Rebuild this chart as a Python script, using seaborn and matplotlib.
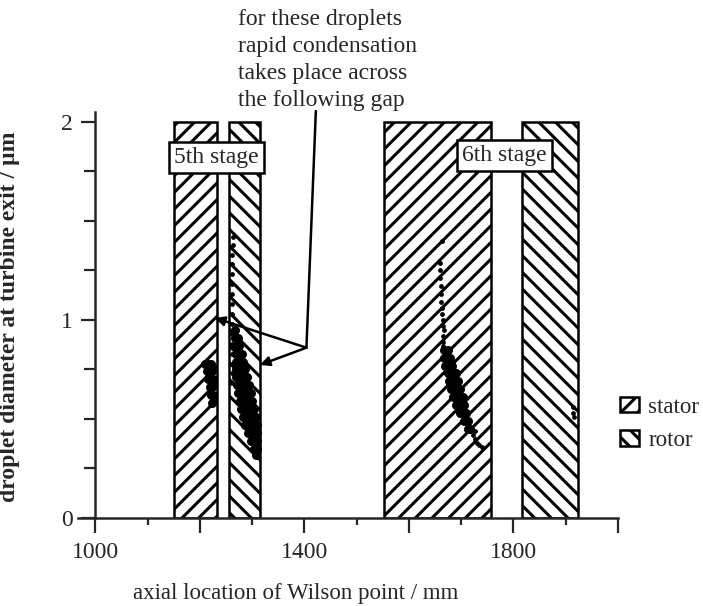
import matplotlib
matplotlib.use("Agg")
import matplotlib.pyplot as plt
from matplotlib.patches import Patch
from matplotlib.ticker import FixedLocator, MultipleLocator
import seaborn as sns
import pandas as pd

# ---------------- data ----------------
blade_kind = ["stator", "rotor", "stator", "rotor"]
blade_start = [1150, 1256, 1553, 1817]
blade_end = [1232, 1316, 1757, 1924]
blade_top = 2.0

stage_names = ["5th stage", "6th stage"]
stage_x = [1232, 1782]
stage_y = [1.82, 1.83]

x_major = [1000, 1200, 1400, 1600, 1800, 2000]
x_labels = ["1000", "", "1400", "", "1800", ""]
y_major = [0, 1, 2]
y_labels = ["0", "1", "2"]

note_text = ["for these droplets", "rapid condensation",
             "takes place across", "the following gap"]

# droplet clusters (dense parts)
a_x = [1210, 1216, 1222, 1213, 1219, 1224, 1216, 1221, 1225, 1219, 1224, 1221, 1225, 1224]
a_y = [0.78, 0.78, 0.78, 0.74, 0.74, 0.74, 0.70, 0.70, 0.70, 0.66, 0.66, 0.62, 0.62, 0.58]

b_x = [1268,
       1268, 1273,
       1269, 1275,
       1269, 1275, 1280,
       1270, 1276, 1283,
       1270, 1276, 1282, 1287,
       1270, 1276, 1282, 1287, 1291,
       1271, 1277, 1283, 1289, 1295,
       1273, 1279, 1285, 1291, 1297,
       1276, 1282, 1288, 1294, 1300,
       1279, 1285, 1291, 1297, 1303,
       1283, 1289, 1295, 1301, 1307,
       1287, 1293, 1299, 1305, 1309,
       1292, 1298, 1304, 1309,
       1298, 1304, 1309,
       1303, 1309,
       1307]
b_y = [0.95,
       0.91, 0.91,
       0.87, 0.87,
       0.83, 0.83, 0.83,
       0.79, 0.79, 0.79,
       0.75, 0.75, 0.75, 0.75,
       0.71, 0.71, 0.71, 0.71, 0.71,
       0.67, 0.67, 0.67, 0.67, 0.67,
       0.63, 0.63, 0.63, 0.63, 0.63,
       0.59, 0.59, 0.59, 0.59, 0.59,
       0.55, 0.55, 0.55, 0.55, 0.55,
       0.51, 0.51, 0.51, 0.51, 0.51,
       0.47, 0.47, 0.47, 0.47, 0.47,
       0.43, 0.43, 0.43, 0.43,
       0.39, 0.39, 0.39,
       0.35, 0.35,
       0.32]

c_x = [1667, 1675,
       1667, 1673, 1678,
       1670, 1676, 1683,
       1674, 1680, 1686, 1690,
       1677, 1683, 1689, 1693,
       1681, 1687, 1693, 1698,
       1685, 1691, 1697, 1703,
       1690, 1696, 1702, 1706,
       1697, 1703, 1709,
       1706, 1713,
       1714, 1717]
c_y = [0.85, 0.85,
       0.81, 0.81, 0.81,
       0.77, 0.77, 0.77,
       0.73, 0.73, 0.73, 0.73,
       0.69, 0.69, 0.69, 0.69,
       0.65, 0.65, 0.65, 0.65,
       0.61, 0.61, 0.61, 0.61,
       0.57, 0.57, 0.57, 0.57,
       0.53, 0.53, 0.53,
       0.49, 0.49,
       0.45, 0.45]

# droplet clusters (thin parts)
b_thin_x = [1263, 1263, 1262, 1262, 1262, 1262, 1261, 1261, 1261, 1261, 1261, 1261, 1261, 1261, 1261, 1261]
b_thin_y = [1.42, 1.38, 1.33, 1.28, 1.23, 1.18, 1.13, 1.08, 1.03, 0.98, 0.93, 0.88, 0.83, 0.78, 0.73, 0.68]
c_thin_x = [1663, 1659, 1660, 1660, 1661, 1661, 1662, 1663, 1664, 1665, 1666, 1667, 1665, 1665, 1666,
            1722, 1726, 1731, 1735, 1739, 1727]
c_thin_y = [1.40, 1.29, 1.25, 1.21, 1.17, 1.13, 1.09, 1.06, 1.03, 1.00, 0.97, 0.95, 0.92, 0.89, 0.87,
            0.42, 0.40, 0.38, 0.37, 0.36, 0.44]
d_x = [1914, 1914, 1915]
d_y = [0.56, 0.53, 0.51]

# ---------------- style ----------------
sns.set_style("ticks")
plt.rcParams["font.family"] = ["Liberation Serif", "DejaVu Serif"]
plt.rcParams["hatch.linewidth"] = 2.2
plt.rcParams["hatch.color"] = "black"

fig = plt.figure(figsize=(7.03, 6.06), dpi=100)
ax = fig.add_axes([78 / 703, (606 - 518) / 606, 540 / 703, (518 - 112) / 606])
ax.set_xlim(967, 2000)
ax.set_ylim(0, 2.05)

hatches = {"stator": "//", "rotor": "\\\\"}
for k, s, e in zip(blade_kind, blade_start, blade_end):
    ax.bar(s, blade_top, width=e - s, align="edge", color="white",
           edgecolor="black", hatch=hatches[k], linewidth=1.8, zorder=2)

dense = pd.DataFrame({"x": a_x + b_x + c_x, "y": a_y + b_y + c_y})
thin = pd.DataFrame({"x": b_thin_x + c_thin_x, "y": b_thin_y + c_thin_y})
tail = pd.DataFrame({"x": d_x, "y": d_y})
sns.scatterplot(data=dense, x="x", y="y", ax=ax, color="black", s=42,
                linewidth=0, zorder=4)
sns.scatterplot(data=thin, x="x", y="y", ax=ax, color="black", s=12,
                linewidth=0, zorder=4)
sns.scatterplot(data=tail, x="x", y="y", ax=ax, color="black", s=12,
                linewidth=0, zorder=4)

for name, sx, sy in zip(stage_names, stage_x, stage_y):
    ax.text(sx, sy, name, ha="center", va="center", fontsize=17, zorder=6,
            bbox=dict(boxstyle="square,pad=0.22", facecolor="white",
                      edgecolor="black", linewidth=1.8))

# leader lines of the note
ax.plot([1422, 1404], [2.055, 0.86], color="black", lw=1.8, clip_on=False, zorder=5)
for tx, ty in [(1229, 1.01), (1315, 0.773)]:
    ax.annotate("", xy=(tx, ty), xytext=(1404, 0.86), zorder=5,
                arrowprops=dict(arrowstyle="-|>", lw=1.8, color="black",
                                mutation_scale=14, shrinkA=0, shrinkB=0))

fig.text(238 / 703, 1 - 9 / 606, "\n".join(note_text), ha="left", va="top",
         fontsize=17, linespacing=1.38)

# axes
sns.despine(ax=ax)
ax.spines["left"].set_position(("data", 1000))
for sp in ["left", "bottom"]:
    ax.spines[sp].set_linewidth(1.8)
ax.xaxis.set_major_locator(FixedLocator(x_major))
ax.set_xticklabels(x_labels)
ax.xaxis.set_minor_locator(MultipleLocator(100))
ax.yaxis.set_major_locator(FixedLocator(y_major))
ax.set_yticklabels(y_labels)
ax.yaxis.set_minor_locator(MultipleLocator(0.25))
ax.tick_params(axis="x", which="major", length=11, width=1.6, pad=6, labelsize=17, direction="out")
ax.tick_params(axis="x", which="minor", length=5, width=1.6, direction="out")
ax.tick_params(axis="y", which="major", length=10, width=1.6, pad=6, labelsize=17, direction="out")
ax.tick_params(axis="y", which="minor", length=8, width=1.6, direction="out")

ax.set_xlabel("axial location of Wilson point / mm", fontsize=16.5)
ax.xaxis.set_label_coords(0.404, -0.16)
ax.set_ylabel("droplet diameter at turbine exit / \u00b5m", fontsize=17, fontweight="bold")
ax.yaxis.set_label_coords(-0.107, 0.495)

handles = [Patch(facecolor="white", edgecolor="black", hatch="//", linewidth=1.8, label="stator"),
           Patch(facecolor="white", edgecolor="black", hatch="\\\\", linewidth=1.8, label="rotor")]
ax.legend(handles=handles, loc="center left", bbox_to_anchor=(1.003, 0.232),
          frameon=False, fontsize=16.5, handlelength=0.85, handleheight=0.65,
          handletextpad=0.4, labelspacing=0.55, borderaxespad=0.0, borderpad=0.0)

fig.savefig("out.png", dpi=100)
